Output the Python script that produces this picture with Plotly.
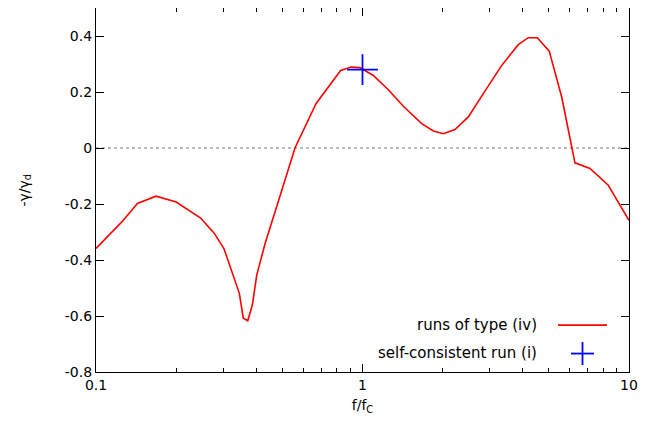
import plotly.graph_objects as go

# data
f_ratio = [0.100, 0.125, 0.143, 0.168, 0.200, 0.247, 0.278, 0.302, 0.345, 0.357,
           0.371, 0.386, 0.401, 0.431, 0.487, 0.558, 0.669, 0.828, 0.906, 0.977,
           1.098, 1.250, 1.423, 1.668, 1.844, 2.010, 2.223, 2.495, 2.840, 3.330,
           3.842, 4.190, 4.530, 5.020, 5.590, 6.270, 7.140, 8.360, 10.00]
gamma_ratio = [-0.359, -0.264, -0.198, -0.172, -0.193, -0.250, -0.305, -0.359, -0.519, -0.608,
               -0.617, -0.561, -0.454, -0.341, -0.180, 0.000, 0.158, 0.277, 0.289, 0.287,
               0.259, 0.208, 0.149, 0.087, 0.061, 0.051, 0.066, 0.111, 0.194, 0.295,
               0.369, 0.394, 0.394, 0.346, 0.182, -0.053, -0.073, -0.133, -0.258]

sc_f = [1.0]
sc_gamma = [0.28]

y_ticks = [-0.8, -0.6, -0.4, -0.2, 0, 0.2, 0.4]
y_ticktext = ["-0.8", "-0.6", "-0.4", "-0.2", "0", "0.2", "0.4"]
x_ticks = [0.1, 1, 10]
x_ticktext = ["0.1", "1", "10"]
x_minor = [0.2, 0.3, 0.4, 0.5, 0.6, 0.7, 0.8, 0.9, 2, 3, 4, 5, 6, 7, 8, 9]

FONT = "DejaVu Sans, Open Sans, sans-serif"

# page offset of 8px (body margin) is compensated in the margins
OFF = 8
PL, PR, PT, PB = 96, 629, 7, 372  # target plot box in window pixels

fig = go.Figure()
fig.add_trace(go.Scatter(x=f_ratio, y=gamma_ratio, mode="lines",
                         line=dict(color="#ff0000", width=1.6),
                         name="runs of type (iv)", showlegend=False))
fig.add_trace(go.Scatter(x=sc_f, y=sc_gamma, mode="markers",
                         marker=dict(symbol="cross-thin", size=22,
                                     line=dict(color="#0000ff", width=1.8)),
                         name="self-consistent run (i)", showlegend=False))

# zero line (dotted)
fig.add_shape(type="line", xref="paper", yref="y", x0=0, x1=1, y0=0, y1=0,
              line=dict(color="#777777", width=1, dash="dot"), layer="below")


def px_x(px):
    return (px - PL) / float(PR - PL)


def px_y(py):
    return (PB - py) / float(PB - PT)


# gnuplot-style legend (text right-aligned, key on the right)
fig.add_annotation(xref="paper", yref="paper", x=px_x(539), y=px_y(325),
                   text="runs of type (iv)", showarrow=False, xanchor="right",
                   yanchor="middle", font=dict(family=FONT, size=15, color="black"))
fig.add_annotation(xref="paper", yref="paper", x=px_x(539), y=px_y(353),
                   text="self-consistent run (i)", showarrow=False, xanchor="right",
                   yanchor="middle", font=dict(family=FONT, size=15, color="black"))
fig.add_shape(type="line", xref="paper", yref="paper", x0=px_x(558), x1=px_x(607),
              y0=px_y(325), y1=px_y(325), line=dict(color="#ff0000", width=1.6))
fig.add_shape(type="line", xref="paper", yref="paper", x0=px_x(571), x1=px_x(594),
              y0=px_y(353.5), y1=px_y(353.5), line=dict(color="#0000ff", width=1.8))
fig.add_shape(type="line", xref="paper", yref="paper", x0=px_x(582.5), x1=px_x(582.5),
              y0=px_y(342), y1=px_y(365), line=dict(color="#0000ff", width=1.8))

# y-axis title placed as in the reference
fig.add_annotation(xref="paper", yref="paper", x=px_x(25), y=px_y(190),
                   text="-γ/γ<sub>d</sub>", showarrow=False, textangle=-90,
                   xanchor="center", yanchor="middle",
                   font=dict(family=FONT, size=14, color="black"))

W, H = 662 - OFF, 432 - OFF
fig.update_layout(
    width=W, height=H,
    margin=dict(l=PL - OFF, r=W - (PR - OFF), t=0, b=H - (PB - OFF)),
    plot_bgcolor="white", paper_bgcolor="white",
    font=dict(family=FONT, size=14, color="black"),
    showlegend=False,
)
fig.update_xaxes(type="log", range=[-1, 1], tickvals=x_ticks, ticktext=x_ticktext,
                 ticks="inside", ticklen=8, tickwidth=1, tickcolor="black",
                 minor=dict(ticks="inside", ticklen=4, tickvals=x_minor, tickcolor="black"),
                 showline=True, linecolor="black", linewidth=1.2, mirror="allticks",
                 showgrid=False, zeroline=False,
                 title=dict(text="f/f<sub>C</sub>", standoff=8,
                            font=dict(family=FONT, size=14)))
fig.update_yaxes(range=[-0.8, 0.5], tickvals=y_ticks, ticktext=y_ticktext,
                 ticks="inside", ticklen=8, tickwidth=1, tickcolor="black",
                 showline=True, linecolor="black", linewidth=1.2, mirror="allticks",
                 showgrid=False, zeroline=False)

fig.write_html("out.html")
